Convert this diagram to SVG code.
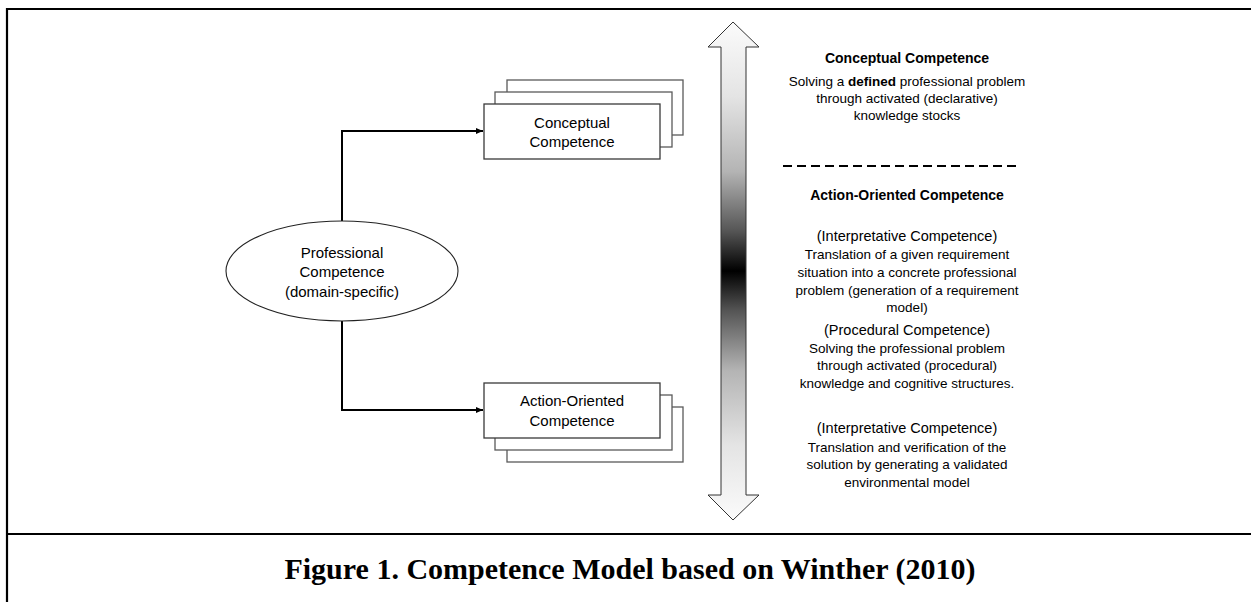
<svg xmlns="http://www.w3.org/2000/svg" width="1251" height="602" viewBox="0 0 1251 602">
<style>
.frame{stroke:#000;stroke-width:2.2;fill:none}
.box{fill:#fff;stroke:#3a3a3a;stroke-width:1.3}
.boxb{fill:#fff;stroke:#5a5a5a;stroke-width:1.3}
.conn{fill:none;stroke:#000;stroke-width:2}
.t{font-family:"Liberation Sans",Arial,sans-serif;fill:#000;text-anchor:middle}
.n{font-size:15px}
.h{font-size:14px;font-weight:bold}
.p{font-size:14.5px}
.s{font-size:13.5px}
.cap{font-family:"Liberation Serif","Times New Roman",serif;font-weight:bold;font-size:30px;text-anchor:middle;fill:#000}
</style>
<defs>
<marker id="ah" markerWidth="7" markerHeight="6" refX="7" refY="3" orient="auto" markerUnits="userSpaceOnUse">
<path d="M0,0 L7,3 L0,6 Z" fill="#000"/>
</marker>
<linearGradient id="g" gradientUnits="userSpaceOnUse" x1="0" y1="22" x2="0" y2="520">
<stop offset="0" stop-color="#fbfbfb"/>
<stop offset="0.15" stop-color="#e4e4e4"/>
<stop offset="0.3" stop-color="#b4b4b4"/>
<stop offset="0.42" stop-color="#555"/>
<stop offset="0.5" stop-color="#000"/>
<stop offset="0.58" stop-color="#555"/>
<stop offset="0.7" stop-color="#b4b4b4"/>
<stop offset="0.85" stop-color="#e4e4e4"/>
<stop offset="1" stop-color="#fbfbfb"/>
</linearGradient>
</defs>
<rect width="1251" height="602" fill="#fff"/>
<g id="frame">
<line class="frame" x1="6" y1="9" x2="1251" y2="9"/>
<line class="frame" x1="7" y1="8" x2="7" y2="602"/>
<line class="frame" x1="6" y1="534" x2="1251" y2="534"/>
</g>
<g id="connectors">
<path class="conn" d="M342,221 L342,131 L483,131" marker-end="url(#ah)"/>
<path class="conn" d="M342,321 L342,410 L483,410" marker-end="url(#ah)"/>
</g>
<g id="professional">
<ellipse cx="342" cy="271" rx="116" ry="50" fill="#fff" stroke="#222" stroke-width="1.1"/>
<text class="t n" x="342" y="257.5">Professional</text>
<text class="t n" x="342" y="277">Competence</text>
<text class="t n" x="342" y="296.5">(domain-specific)</text>
</g>
<g id="conceptual">
<rect class="boxb" x="507" y="80" width="176" height="55"/>
<rect class="boxb" x="495" y="92" width="177" height="55"/>
<rect class="box" x="484" y="104" width="176" height="55"/>
<text class="t n" x="572" y="127.7">Conceptual</text>
<text class="t n" x="572" y="147">Competence</text>
</g>
<g id="action">
<rect class="boxb" x="507" y="407" width="176" height="55"/>
<rect class="boxb" x="495" y="395" width="177" height="55"/>
<rect class="box" x="484" y="383" width="176" height="55"/>
<text class="t n" x="572" y="406">Action-Oriented</text>
<text class="t n" x="572" y="426">Competence</text>
</g>
<g id="scale-arrow">
<path d="M733,22 L759,47 L746,47 L746,495 L759,495 L733,520 L708,495 L721,495 L721,47 L708,47 Z" fill="url(#g)" stroke="#333" stroke-width="1"/>
</g>
<g id="descriptions">
<text class="t h" x="907" y="63">Conceptual Competence</text>
<text class="t s" x="907" y="86">Solving a <tspan font-weight="bold">defined</tspan> professional problem</text>
<text class="t s" x="907" y="103">through activated (declarative)</text>
<text class="t s" x="907" y="120">knowledge stocks</text>
<line x1="783" y1="166" x2="1021" y2="166" stroke="#000" stroke-width="2" stroke-dasharray="9,5"/>
<text class="t h" x="907" y="200">Action-Oriented Competence</text>
<text class="t p" x="907" y="241">(Interpretative Competence)</text>
<text class="t s" x="907" y="259">Translation of a given requirement</text>
<text class="t s" x="907" y="277">situation into a concrete professional</text>
<text class="t s" x="907" y="295">problem (generation of a requirement</text>
<text class="t s" x="907" y="312">model)</text>
<text class="t p" x="907" y="335">(Procedural Competence)</text>
<text class="t s" x="907" y="353">Solving the professional problem</text>
<text class="t s" x="907" y="370">through activated (procedural)</text>
<text class="t s" x="907" y="388">knowledge and cognitive structures.</text>
<text class="t p" x="907" y="433">(Interpretative Competence)</text>
<text class="t s" x="907" y="452">Translation and verification of the</text>
<text class="t s" x="907" y="469">solution by generating a validated</text>
<text class="t s" x="907" y="487">environmental model</text>
</g>
<g id="caption">
<text class="cap" x="630" y="579">Figure 1. Competence Model based on Winther (2010)</text>
</g>
</svg>
